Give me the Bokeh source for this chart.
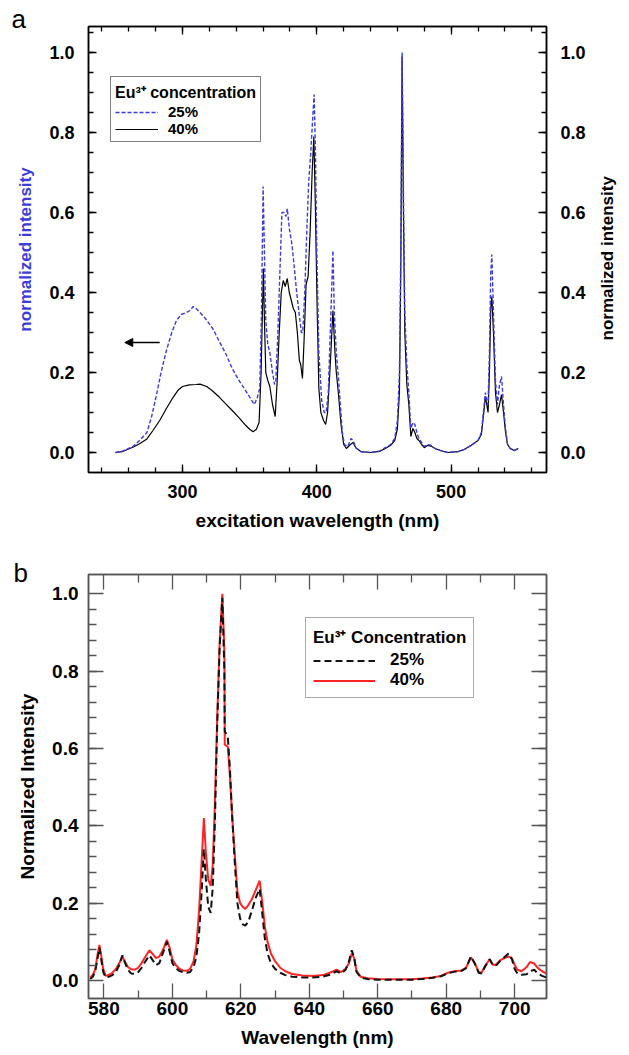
from bokeh.plotting import figure
from bokeh.models import (FixedTicker, LinearAxis, Legend, LegendItem, Arrow,
                          NormalHead, PrintfTickFormatter, Title)
from bokeh.layouts import column
from bokeh.embed import file_html
from bokeh.resources import INLINE
import math

# ---------------- data: panel a (excitation) ----------------
ex_wl_40 = [250, 255, 263, 268, 273.5, 278, 283, 288, 293, 297, 300, 305, 310, 313, 318, 322, 327.5, 332, 337, 342,
            347, 350, 352.5, 355, 357, 358.5, 360.2, 361, 362, 363.5, 365, 367, 369, 370.5, 372, 373.5, 375, 376.5,
            378, 379.5, 381, 382.5, 384, 385.5, 387, 388, 389.3, 390.5, 392, 393.5, 395, 396.5, 397.8, 399, 400,
            401.5, 403, 405, 406.6, 408, 410, 412, 413.5, 414.5, 416, 418, 420, 422, 425, 427, 429, 433, 440, 447,
            451, 455, 458, 460, 461.5, 462.5, 463.5, 464.5, 465.5, 467, 468.5, 470, 471.5, 473, 474.5, 476, 478,
            480, 482.5, 485, 488, 492, 497.5, 505, 510, 515, 520, 522.5, 524, 525.5, 526.5, 527.5, 528.5, 529.5,
            530.3, 531.5, 533, 534.5, 536, 537.5, 539, 540.5, 542, 544, 547, 550]
ex_int_40 = [0.0, 0.002, 0.013, 0.022, 0.034, 0.055, 0.08, 0.11, 0.138, 0.157, 0.165, 0.169, 0.17, 0.171, 0.165, 0.155,
             0.138, 0.122, 0.105, 0.087, 0.068, 0.058, 0.052, 0.058, 0.075, 0.2, 0.46, 0.33, 0.2, 0.18, 0.165, 0.12,
             0.09, 0.18, 0.3, 0.4, 0.43, 0.415, 0.435, 0.4, 0.38, 0.36, 0.35, 0.3, 0.23, 0.22, 0.185, 0.28, 0.42,
             0.44, 0.55, 0.7, 0.79, 0.6, 0.4, 0.16, 0.1, 0.08, 0.07, 0.1, 0.22, 0.355, 0.25, 0.2, 0.15, 0.07, 0.02,
             0.01, 0.02, 0.025, 0.012, 0.002, 0.0, 0.003, 0.01, 0.018, 0.03, 0.06, 0.15, 0.45, 0.99, 0.6, 0.3,
             0.17, 0.12, 0.04, 0.06, 0.05, 0.035, 0.03, 0.02, 0.012, 0.018, 0.016, 0.01, 0.005, 0.0, 0.002, 0.008,
             0.018, 0.03, 0.045, 0.09, 0.14, 0.12, 0.1, 0.2, 0.36, 0.39, 0.3, 0.15, 0.1, 0.12, 0.145, 0.1, 0.05,
             0.02, 0.01, 0.005, 0.01]

ex_wl_25 = [250, 255, 263, 268, 273.5, 277, 281, 284, 288, 292, 295.5, 299, 303, 305.5, 308, 310, 313, 317, 322.5,
            327, 332.5, 337, 342, 346, 349.7, 353.4, 355.5, 357.5, 358.8, 360, 361, 362, 363.5, 365, 367, 368.5,
            369.5, 371, 372.5, 374, 375.5, 377, 378, 379.5, 381.5, 383, 385, 386.7, 388.5, 389.5, 391, 392.5, 394,
            395.5, 397, 398, 399, 400, 401.5, 403.6, 405.5, 407, 408.5, 410, 412, 413, 414.5, 416, 417.5, 419,
            420.5, 423, 425.5, 427, 429, 433, 440, 447, 451, 455, 458, 460, 461.5, 462.5, 463.5, 464.5, 465.5, 467,
            468.5, 470, 471.5, 473, 474.5, 476, 478, 480, 482.5, 485, 488, 492, 497.5, 505, 510, 515, 520, 522.5,
            524, 525.5, 526.5, 527.5, 528.5, 529.5, 530.3, 531.5, 533, 534.5, 536, 537.5, 539, 540.5, 542, 544,
            547, 550]
ex_int_25 = [0.0, 0.003, 0.015, 0.03, 0.05, 0.09, 0.15, 0.2, 0.255, 0.3, 0.33, 0.345, 0.35, 0.355, 0.365, 0.36, 0.35,
             0.335, 0.31, 0.28, 0.245, 0.21, 0.18, 0.16, 0.14, 0.12, 0.135, 0.16, 0.35, 0.665, 0.5, 0.33, 0.27,
             0.25, 0.2, 0.17, 0.18, 0.3, 0.45, 0.6, 0.6, 0.59, 0.61, 0.56, 0.52, 0.47, 0.4, 0.35, 0.3, 0.3, 0.4,
             0.55, 0.68, 0.75, 0.84, 0.895, 0.75, 0.5, 0.25, 0.13, 0.1, 0.1, 0.15, 0.3, 0.505, 0.35, 0.25, 0.19,
             0.12, 0.05, 0.02, 0.015, 0.035, 0.03, 0.012, 0.002, 0.0, 0.004, 0.012, 0.02, 0.035, 0.08, 0.2, 0.5,
             1.0, 0.65, 0.35, 0.22, 0.15, 0.06, 0.075, 0.07, 0.05, 0.035, 0.025, 0.015, 0.02, 0.018, 0.01, 0.005,
             0.0, 0.002, 0.008, 0.018, 0.03, 0.05, 0.1, 0.15, 0.13, 0.12, 0.25, 0.45, 0.495, 0.35, 0.18, 0.12,
             0.17, 0.19, 0.12, 0.06, 0.02, 0.01, 0.005, 0.01]

# ---------------- data: panel b (emission) ----------------
em_wl = [576.0, 576.8, 577.5, 578.2, 578.7, 579.3, 579.8, 580.5, 581.5, 582.5, 583.5, 584.5, 585.4, 586.2, 587,
         588, 589, 590, 591, 592, 593.3, 594.3, 595.2, 596.2, 597.2, 598.4, 599.2, 600, 601, 602, 603, 604.2,
         605.2, 606.2, 607, 607.8, 608.5, 609.2, 609.8, 610.5, 611.2, 611.8, 612.4, 613.1, 613.8, 614.6, 615.2,
         615.3, 616.2, 616.8, 617.5, 618.2, 619, 619.8, 620.6, 621.3, 622.2, 623.2, 624.4, 625.5, 626.3, 627,
         627.8, 628.8, 630, 631.5, 633, 635, 638, 641, 644, 646, 648, 649.3, 650.6, 651.6, 652.4, 653.1, 653.8,
         655, 657, 660, 665, 670, 673, 676, 678.5, 680.5, 682.5, 684.5, 685.8, 687.2, 688.3, 689.5, 690.3,
         691.5, 692.7, 693.7, 694.7, 695.7, 697, 698.2, 699.2, 700, 700.8, 702, 703.5, 704.5, 705.7, 706.8,
         708, 709.3]
em_int_40 = [0.008, 0.015, 0.03, 0.07, 0.092, 0.06, 0.03, 0.012, 0.015, 0.02, 0.03, 0.045, 0.062, 0.048, 0.035,
             0.029, 0.028, 0.033, 0.045, 0.06, 0.078, 0.068, 0.058, 0.062, 0.078, 0.105, 0.085, 0.055, 0.04, 0.031,
             0.026, 0.025, 0.03, 0.05, 0.09, 0.18, 0.3, 0.42, 0.33, 0.26, 0.245, 0.3, 0.45, 0.68, 0.87, 1.0, 0.85,
             0.61, 0.605, 0.53, 0.42, 0.33, 0.23, 0.2, 0.19, 0.185, 0.195, 0.21, 0.235, 0.258, 0.2, 0.14, 0.1,
             0.07, 0.05, 0.033, 0.024, 0.017, 0.013, 0.012, 0.014, 0.02, 0.028, 0.022, 0.03, 0.045, 0.07, 0.058,
             0.025, 0.01, 0.006, 0.004, 0.003, 0.003, 0.005, 0.008, 0.012, 0.02, 0.024, 0.026, 0.033, 0.06, 0.045,
             0.022, 0.02, 0.04, 0.055, 0.04, 0.042, 0.052, 0.058, 0.062, 0.058, 0.04, 0.028, 0.024, 0.035, 0.048,
             0.044, 0.032, 0.024, 0.018]
em_int_25 = [0.004, 0.01, 0.025, 0.06, 0.085, 0.05, 0.022, 0.008, 0.01, 0.014, 0.022, 0.04, 0.065, 0.045, 0.028,
             0.018, 0.017, 0.022, 0.033, 0.048, 0.065, 0.052, 0.04, 0.045, 0.07, 0.1, 0.075, 0.045, 0.032, 0.025,
             0.022, 0.02, 0.022, 0.035, 0.06, 0.12, 0.22, 0.34, 0.26, 0.19, 0.175, 0.24, 0.4, 0.66, 0.86, 0.99,
             0.8, 0.645, 0.63, 0.55, 0.42, 0.31, 0.2, 0.16, 0.145, 0.142, 0.152, 0.18, 0.215, 0.237, 0.17, 0.11,
             0.07, 0.045, 0.03, 0.02, 0.014, 0.01, 0.008, 0.008, 0.01, 0.015, 0.024, 0.018, 0.028, 0.05, 0.078,
             0.06, 0.022, 0.008, 0.004, 0.002, 0.002, 0.002, 0.004, 0.007, 0.011, 0.019, 0.023, 0.025, 0.032,
             0.062, 0.045, 0.02, 0.018, 0.038, 0.055, 0.038, 0.04, 0.05, 0.06, 0.07, 0.055, 0.03, 0.018, 0.015,
             0.016, 0.024, 0.028, 0.018, 0.012, 0.008]

series_labels = ["25%", "40%"]
legend_title_a = "Eu³⁺ concentration"
legend_title_b = "Eu³⁺ Concentration"
panel_letters = ["a", "b"]
y_label_a = "normalized intensity"

# axis ranges / ticks
a_x_range = (230, 571)
a_y_range = (-0.05, 1.065)
a_x_major = [300, 400, 500]
a_x_minor = list(range(240, 571, 20))
y_major = [0.0, 0.2, 0.4, 0.6, 0.8, 1.0]
a_y_minor = [round(0.05 * i, 2) for i in range(0, 22)]
right_label_start = 0.28  # where the bottom-to-top right label begins

b_x_range = (575.5, 709.3)
b_y_range = (-0.0465, 1.05)
b_x_major = list(range(580, 701, 20))
b_x_minor = list(range(590, 710, 20))
b_y_minor = [round(0.04 * i, 2) for i in range(1, 25)]

arrow_pos = dict(x_start=283, y_start=0.275, x_end=257, y_end=0.275)

FONT = "Liberation Sans"
BLUE = "#3c3cdc"


def style_axis(ax, major_in, minor_in, color, font_size, standoff, show_labels=True):
    ax.major_tick_in = major_in
    ax.major_tick_out = 0
    ax.minor_tick_in = minor_in
    ax.minor_tick_out = 0
    ax.axis_line_color = color
    ax.axis_line_width = 1.5
    ax.major_tick_line_color = color
    ax.minor_tick_line_color = color
    ax.major_tick_line_width = 1.3
    ax.minor_tick_line_width = 1.3
    ax.major_label_text_font = FONT
    ax.major_label_text_font_style = "bold"
    ax.major_label_text_color = "black"
    ax.major_label_standoff = standoff
    ax.axis_label_text_font = FONT
    ax.axis_label_text_font_style = "bold"
    ax.axis_label_text_color = "black"
    if show_labels:
        ax.major_label_text_font_size = font_size
    else:
        ax.major_label_text_font_size = "1px"
        ax.major_label_text_color = None
        ax.major_label_standoff = 0


def letter_title(text, offset, standoff):
    t = Title(text=text, align="left", offset=offset, text_font=FONT, text_font_size="26px",
              text_font_style="normal", text_color="black", vertical_align="bottom")
    try:
        t.standoff = standoff
    except Exception:
        t.standoff = 0
    return t


# ================= panel a =================
H1 = 548
p1 = figure(width=629, height=H1, x_range=a_x_range, y_range=a_y_range,
            output_backend="svg", toolbar_location=None,
            min_border_left=88, min_border_right=81, min_border_top=26, min_border_bottom=76,
            x_axis_location=None, y_axis_location=None)
p1.grid.visible = False
p1.outline_line_color = "black"
p1.outline_line_width = 1.5

xt_a = FixedTicker(ticks=a_x_major, minor_ticks=a_x_minor)
yt_a = FixedTicker(ticks=y_major, minor_ticks=a_y_minor)

xb = LinearAxis(ticker=xt_a, axis_label="excitation wavelength (nm)")
style_axis(xb, 8, 5, "black", "18px", 12)
xb.axis_label_text_font_size = "19px"
xb.axis_label_standoff = 9
p1.add_layout(xb, "below")
xa = LinearAxis(ticker=xt_a)
style_axis(xa, 8, 5, "black", "18px", 0, show_labels=False)
p1.add_layout(xa, "above")

yl = LinearAxis(ticker=yt_a, axis_label=y_label_a, formatter=PrintfTickFormatter(format="%.1f"))
style_axis(yl, 8, 5, "black", "18px", 14)
yl.axis_label_text_font_size = "17px"
yl.axis_label_text_color = BLUE
yl.axis_label_standoff = 11
p1.add_layout(yl, "left")

yr = LinearAxis(ticker=yt_a, formatter=PrintfTickFormatter(format="%.1f"))
style_axis(yr, 8, 5, "black", "18px", 14)
p1.add_layout(yr, "right")

# right-hand axis title, reading bottom-to-top like the left one
yr_title = LinearAxis(ticker=FixedTicker(ticks=[right_label_start], minor_ticks=[]),
                      major_label_overrides={right_label_start: y_label_a},
                      major_label_orientation=math.pi / 2)
style_axis(yr_title, 0, 0, "black", "17px", 19)
yr_title.major_label_text_font_style = "bold"
yr_title.axis_line_color = None
yr_title.major_tick_line_color = None
yr_title.minor_tick_line_color = None
p1.add_layout(yr_title, "right")

r40 = p1.line(ex_wl_40, ex_int_40, line_color="black", line_width=1.2)
r25 = p1.line(ex_wl_25, ex_int_25, line_color=BLUE, line_width=1.4, line_dash="4 2")

leg_a = Legend(items=[LegendItem(label=series_labels[0], renderers=[r25]),
                      LegendItem(label=series_labels[1], renderers=[r40])],
               location=(22, 330), title=legend_title_a,
               title_text_font=FONT, title_text_font_style="bold", title_text_font_size="16px",
               title_text_color="black",
               label_text_font=FONT, label_text_font_style="bold", label_text_font_size="15px",
               label_text_color="black",
               border_line_color="black", border_line_width=1.3, background_fill_alpha=1.0,
               glyph_width=43, glyph_height=14, label_height=14, label_standoff=10,
               spacing=0, padding=4, margin=0, title_standoff=0)
p1.add_layout(leg_a)

p1.add_layout(Arrow(end=NormalHead(size=8, fill_color="black", line_color="black"),
                    line_color="black", line_width=1.5, **arrow_pos))

p1.add_layout(letter_title(panel_letters[0], -77, -15), "above")

# ================= panel b =================
GRAY = "#555555"
H2 = 1055 - H1
p2 = figure(width=629, height=H2, x_range=b_x_range, y_range=b_y_range,
            output_backend="svg", toolbar_location=None,
            min_border_left=85, min_border_right=78, min_border_top=26, min_border_bottom=57,
            x_axis_location=None, y_axis_location=None)
p2.grid.visible = False
p2.outline_line_color = GRAY
p2.outline_line_width = 1.5

xt_b = FixedTicker(ticks=b_x_major, minor_ticks=b_x_minor)
yt_b = FixedTicker(ticks=y_major, minor_ticks=b_y_minor)

xb2 = LinearAxis(ticker=xt_b, axis_label="Wavelength (nm)")
style_axis(xb2, 15, 8, GRAY, "19px", 3)
xb2.axis_label_text_font_size = "19px"
xb2.axis_label_standoff = 9
p2.add_layout(xb2, "below")
xa2 = LinearAxis(ticker=xt_b)
style_axis(xa2, 15, 8, GRAY, "19px", 0, show_labels=False)
p2.add_layout(xa2, "above")

yl2 = LinearAxis(ticker=yt_b, axis_label="Normalized Intensity",
                 formatter=PrintfTickFormatter(format="%.1f"))
style_axis(yl2, 15, 8, GRAY, "19px", 10)
yl2.axis_label_text_font_size = "19px"
yl2.axis_label_standoff = 11
p2.add_layout(yl2, "left")
yr2 = LinearAxis(ticker=yt_b)
style_axis(yr2, 15, 8, GRAY, "19px", 0, show_labels=False)
p2.add_layout(yr2, "right")

rb40 = p2.line(em_wl, em_int_40, line_color="#ff2424", line_width=2)
rb25 = p2.line(em_wl, em_int_25, line_color="#111111", line_width=2, line_dash="7 4")

leg_b = Legend(items=[LegendItem(label=series_labels[0], renderers=[rb25]),
                      LegendItem(label=series_labels[1], renderers=[rb40])],
               location=(217, 300), title=legend_title_b,
               title_text_font=FONT, title_text_font_style="bold", title_text_font_size="17px",
               title_text_color="black",
               label_text_font=FONT, label_text_font_style="bold", label_text_font_size="17px",
               label_text_color="black",
               border_line_color=GRAY, border_line_width=1.3, background_fill_alpha=1.0,
               glyph_width=62, glyph_height=17, label_height=17, label_standoff=15,
               spacing=0, padding=7, margin=0, title_standoff=2)
p2.add_layout(leg_b)

p2.add_layout(letter_title(panel_letters[1], -75, -26), "above")

layout = column(p1, p2, spacing=0)
open("out.html", "w").write(file_html(layout, INLINE))
